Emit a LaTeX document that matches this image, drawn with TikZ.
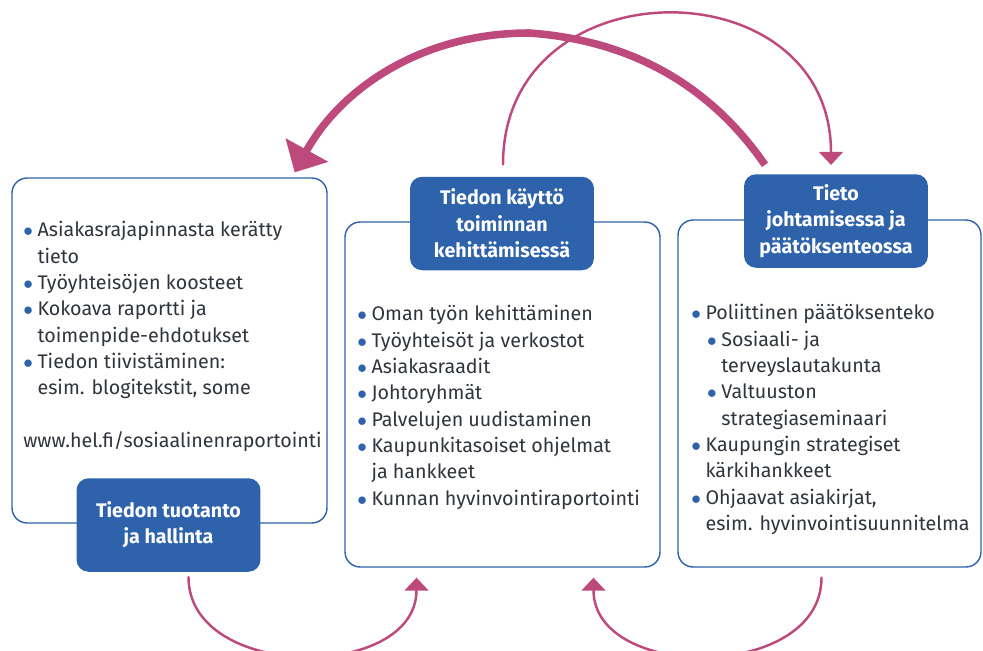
\documentclass[tikz,border=0pt]{standalone}
\usepackage{fontspec}
\setmainfont{Fira Sans}
\usepackage{tikz}
\usetikzlibrary{arrows.meta,calc,positioning}
\definecolor{hkiink}{HTML}{30343C}
\definecolor{hkiblue}{HTML}{2E62AB}
\definecolor{hkiarrow}{HTML}{BE4A7D}
\newcommand{\blt}{\textcolor{hkiblue}{$\bullet$}\hspace{2.6pt}}
\newcommand{\ind}{\phantom{\blt}}
\newcommand{\subind}{\hspace{9pt}}

\begin{document}
\begin{tikzpicture}[x=0.02cm,y=-0.02cm,line cap=round,line join=round,
  font=\fontsize{11.2}{15}\selectfont,text=hkiink,
  panel/.style={draw=hkiblue,line width=0.8pt,rounded corners=0.3cm,fill=white,
    minimum width=6.3cm,minimum height=6.9cm,inner sep=0pt},
  headbox/.style={fill=hkiblue,rounded corners=0.24cm,minimum width=3.68cm,
    minimum height=1.87cm,text=white,font=\fontsize{11.2}{15}\selectfont\bfseries,
    align=center,inner sep=0pt},
  items/.style={anchor=north west,align=left,inner sep=0pt},
  thinarc/.style={hkiarrow,line width=1.4pt,-{Triangle[width=13.6pt,length=7.4pt]}},
  thickarc/.style={hkiarrow,line width=4.3pt,line cap=butt,-{Triangle[width=27pt,length=14.5pt]}}]
\path[use as bounding box] (0,0) rectangle (983,650);
\begin{scope}
\clip (0,0) rectangle (983,650);
% kehykset
\node[panel] (prodbox) at (169.5,350.5) {};
\node[panel] (usebox) at (502.5,394.5) {};
\node[panel,minimum width=6.06cm,minimum height=6.94cm] (decbox) at (829.5,393.5) {};
% otsikot
\node[headbox] (prodhdr) at (168.5,525) {Tiedon tuotanto\\ja hallinta};
\node[headbox] (usehdr) at (502,223.5) {Tiedon käyttö\\toiminnan\\kehittämisessä};
\node[headbox] (dechdr) at (836,221) {Tieto\\johtamisessa ja\\päätöksenteossa};
% luettelot
\node[items] (prodlist) at (23,221) {\blt Asiakasrajapinnasta kerätty\\
  \ind tieto\\
  \blt Työyhteisöjen koosteet\\
  \blt Kokoava raportti ja\\
  \ind toimenpide-ehdotukset\\
  \blt Tiedon tiivistäminen:\\
  \ind esim. blogitekstit, some\\[15pt]
  www.hel.fi/sosiaalinenraportointi};
\node[items] (uselist) at (357,305) {\blt Oman työn kehittäminen\\
  \blt Työyhteisöt ja verkostot\\
  \blt Asiakasraadit\\
  \blt Johtoryhmät\\
  \blt Palvelujen uudistaminen\\
  \blt Kaupunkitasoiset ohjelmat\\
  \ind ja hankkeet\\
  \blt Kunnan hyvinvointiraportointi};
\node[items] (declist) at (691,304) {\blt Poliittinen päätöksenteko\\
  \subind\blt Sosiaali- ja\\
  \subind\ind terveyslautakunta\\
  \subind\blt Valtuuston\\
  \subind\ind strategiaseminaari\\
  \blt Kaupungin strategiset\\
  \ind kärkihankkeet\\
  \blt Ohjaavat asiakirjat,\\
  \ind esim. hyvinvointisuunnitelma};
% kierron nuolet
\draw[thickarc] ($(dechdr.north)+(-71,-9)$) .. controls (710,85) and (630,40) .. (529,33)
  .. controls (420,33) and (340,90) .. ($(prodbox.north east)+(-33,-5)$);
\draw[thinarc] ($(usehdr.north)+(1,-12)$) .. controls +(0,-201) and +(0,-201) .. ($(dechdr.north)+(-5,-9)$);
\draw[thinarc] ($(prodhdr.south)+(20,5)$) .. controls +(0,104) and +(0,104) .. ($(usebox.south)+(-86,10)$);
\draw[thinarc] ($(decbox.south)+(-8,10)$) .. controls +(0,104) and +(0,104) .. ($(usebox.south)+(91,10)$);
\end{scope}
\end{tikzpicture}
\end{document}
